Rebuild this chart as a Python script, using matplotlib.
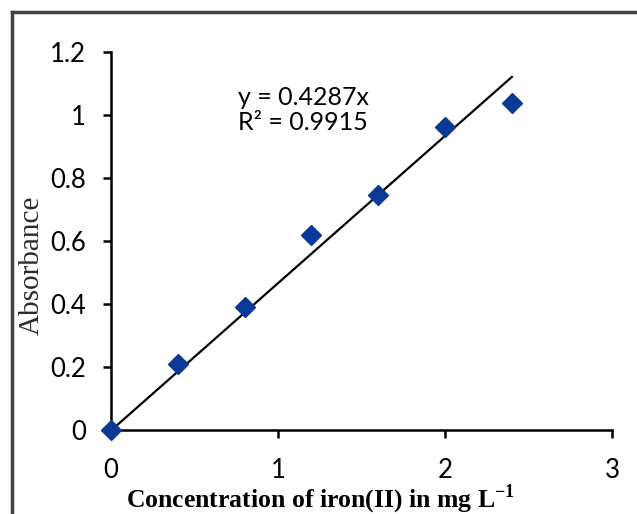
import matplotlib.pyplot as plt
from matplotlib.lines import Line2D

plt.rcParams['mathtext.fontset'] = 'custom'
plt.rcParams['mathtext.rm'] = 'Liberation Serif:bold'
plt.rcParams['mathtext.bf'] = 'Liberation Serif:bold'

# Calibration data
conc = [0, 0.4, 0.8, 1.2, 1.6, 2.0, 2.4]
absorb = [0.0, 0.212, 0.392, 0.62, 0.747, 0.962, 1.038]

# Trend line as drawn in the figure
trend_x = [0, 2.4]
trend_y = [0, 1.12]

x_ticks = [0, 1, 2, 3]
y_ticks = [0, 0.2, 0.4, 0.6, 0.8, 1.0, 1.2]
y_labels = ['0', '0.2', '0.4', '0.6', '0.8', '1', '1.2']

sans = 'Lato'
serif = 'Liberation Serif'

fig = plt.figure(figsize=(6.37, 5.14), dpi=100)
ax = fig.add_axes([0.1743, 0.1625, 0.9608 - 0.1743, 0.8994 - 0.1625])

ax.plot(trend_x, trend_y, color='black', lw=1.6, zorder=2)
ax.plot(conc, absorb, linestyle='none', marker='D', markersize=10,
        color='#0a3a96', markeredgecolor='#0a3a96', zorder=3, clip_on=False)

ax.set_xlim(0, 3)
ax.set_ylim(0, 1.2)
ax.set_xticks(x_ticks)
ax.set_xticklabels([str(t) for t in x_ticks])
ax.set_yticks(y_ticks)
ax.set_yticklabels(y_labels)

for side in ['top', 'right']:
    ax.spines[side].set_visible(False)
for side in ['left', 'bottom']:
    ax.spines[side].set_linewidth(1.8)

ax.tick_params(axis='both', direction='out', length=6, width=1.8, labelsize=18.5)
ax.tick_params(axis='x', pad=14)
ax.tick_params(axis='y', pad=12)
for lab in ax.get_xticklabels() + ax.get_yticklabels():
    lab.set_fontfamily(sans)

# axis titles
fig.text(321 / 637, 1 - 507 / 514, 'Concentration of iron(II) in mg L$^{-1}$',
         family=serif, fontweight='bold', fontsize=18.5, ha='center', va='baseline')
fig.text(32 / 637, 1 - 265 / 514, 'Absorbance', family=serif, fontsize=21,
         color='#2a2a2a', rotation=90, ha='center', va='center')

ax.text(0.76, 1.031, 'y = 0.4287x', family=sans, fontsize=18, va='baseline')
ax.text(0.76, 0.952, 'R² = 0.9915', family=sans, fontsize=18, va='baseline')

# grey frame around the picture (top and left edges)
fig.add_artist(Line2D([12 / 637, 1], [1 - 12 / 514, 1 - 12 / 514],
                      transform=fig.transFigure, color='#444444', lw=2.5))
fig.add_artist(Line2D([12 / 637, 12 / 637], [0, 1 - 12 / 514],
                      transform=fig.transFigure, color='#444444', lw=2.5))

fig.savefig('out.png', dpi=100)
